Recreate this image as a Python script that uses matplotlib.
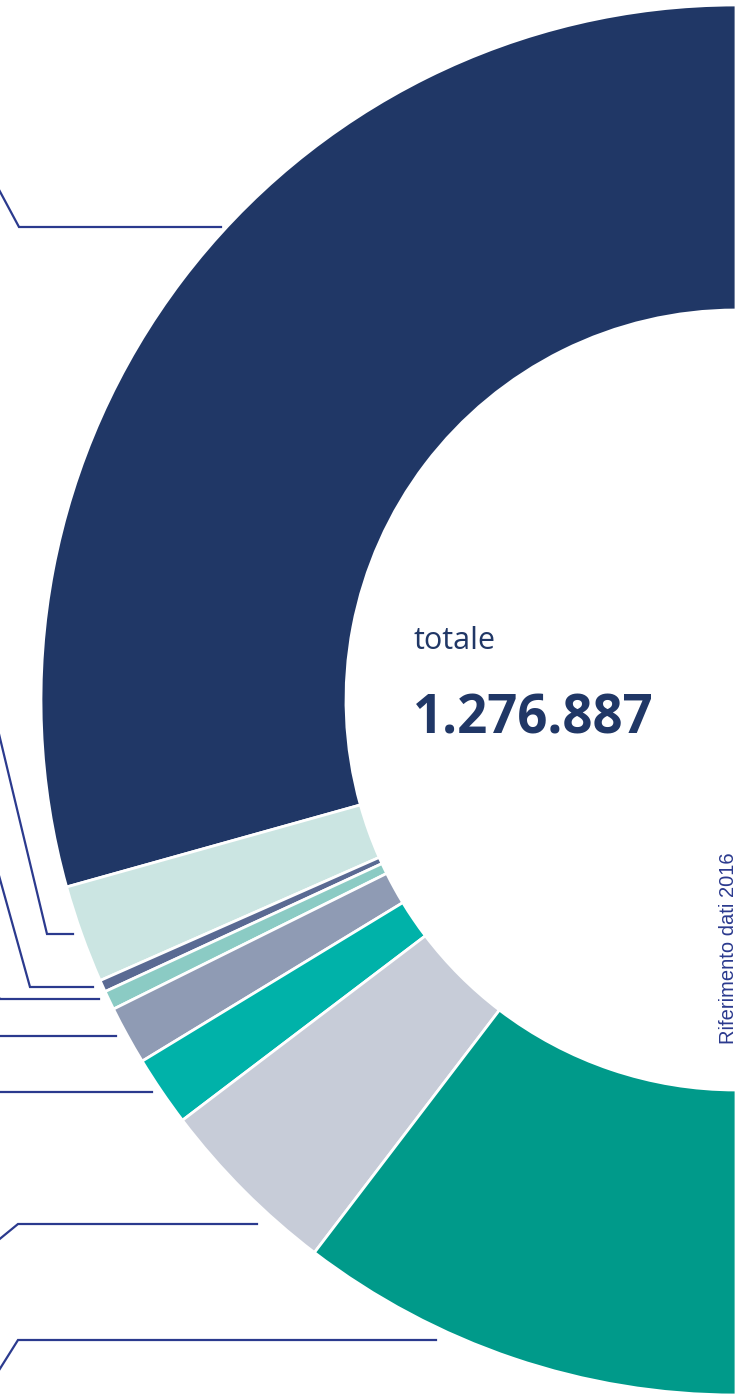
import matplotlib
matplotlib.use("Agg")
import matplotlib.pyplot as plt

# quote del totale (dati 2016)
values = [749150, 58170, 7090, 11350, 34760, 41860, 109600, 264907]
colors = ['#203766', '#cbe5e2', '#5a6a93', '#8bcbc4', '#8f9bb4',
          '#00b2a9', '#c7ccd8', '#009a8a']
total = sum(values)
total_label = '1.276.887'
note = 'Riferimento dati 2016'

# linee di richiamo (le etichette sono fuori dal ritaglio)
leaders = [
    [(-3, 186), (19, 227), (221, 227)],
    [(-1, 734), (47, 934), (73, 934)],
    [(-2, 872), (30, 987), (93, 987)],
    [(-6, 990), (0, 999), (99, 999)],
    [(0, 1036), (116, 1036)],
    [(0, 1092), (152, 1092)],
    [(-4, 1242), (18, 1224), (257, 1224)],
    [(-4, 1375), (18, 1340), (436, 1340)],
]

W, H = 753, 1396
fig = plt.figure(figsize=(W / 100, H / 100), dpi=100)
ax = fig.add_axes([0, 0, 1, 1])

cx, cy, R, r = 736, 700, 695, 390
wedges, _ = ax.pie(values + [total], colors=colors + ['none'],
                   center=(cx, cy), radius=R, startangle=270,
                   counterclock=False, frame=True,
                   wedgeprops=dict(width=R - r, edgecolor='white', linewidth=2))
wedges[-1].set_edgecolor('none')
ax.set_xlim(0, W)
ax.set_ylim(H, 0)
ax.set_aspect('equal')
ax.axis('off')

for pts in leaders:
    xs = [p[0] for p in pts]
    ys = [p[1] for p in pts]
    ax.plot(xs, ys, color='#2b3a8e', lw=1.6, solid_joinstyle='miter')

ax.text(414, 641, 'totale', fontsize=22, color='#203766',
        family='Open Sans', ha='left', va='center')
ax.text(413, 719, total_label, fontsize=38, color='#203766',
        family='Open Sans', fontweight='bold', ha='left', va='center')
ax.text(729, 948, note, fontsize=14.5, color='#2b3a8e',
        family='Liberation Sans', rotation=90, ha='center', va='center')

fig.savefig('out.png', dpi=100)
